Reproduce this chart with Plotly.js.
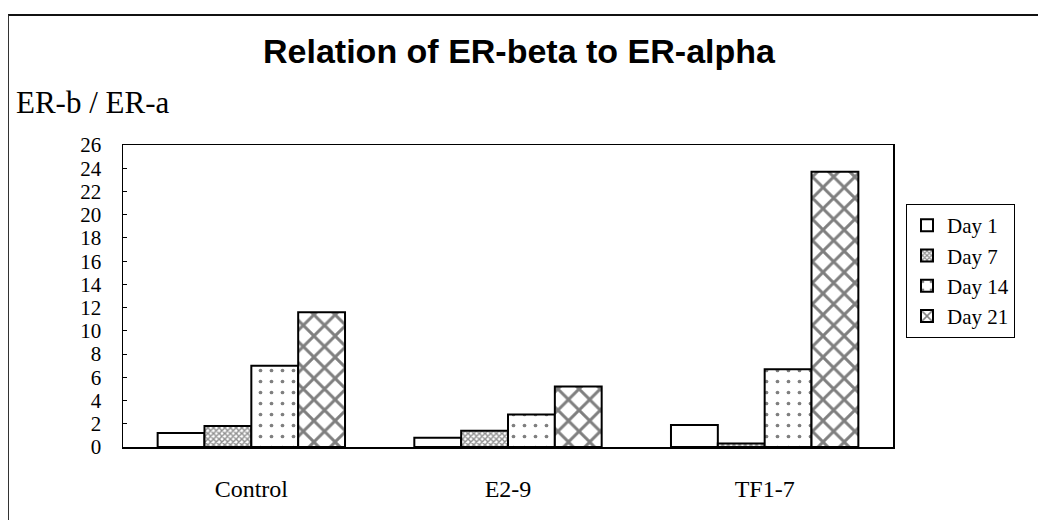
<!DOCTYPE html>
<html>
<head>
<meta charset="utf-8">
<script src="https://cdn.plot.ly/plotly-3.0.1.min.js"></script>
<style>
  html, body { margin: 0; padding: 0; background: #fff; }
  #wrap { position: relative; width: 1038px; height: 520px; }
  #chart { width: 1038px; height: 520px; }
  #frame { position: absolute; left: 8px; top: 14px; right: 0; bottom: 0;
           border-top: 2px solid #111; border-left: 1px solid #333; pointer-events: none; }
</style>
</head>
<body>
<div id="wrap">
  <div id="chart"></div>
  <div id="frame"></div>
</div>
<script>
const categories = ["Control", "E2-9", "TF1-7"];
const seriesNames = ["Day 1", "Day 7", "Day 14", "Day 21"];
const day1 = [1.2, 0.8, 1.9];
const day7 = [1.8, 1.4, 0.3];
const day14 = [7.0, 2.8, 6.7];
const day21 = [11.6, 5.2, 23.7];
const yTicks = [0, 2, 4, 6, 8, 10, 12, 14, 16, 18, 20, 22, 24, 26];

const serif = "Liberation Serif, Times New Roman, serif";
const lineStyle = {color: "#000", width: 2};

const patterns = [
  {shape: "", fillmode: "overlay"},
  {shape: "x", size: 4, solidity: 0.6, fgcolor: "#222", bgcolor: "#fff", fillmode: "overlay"},
  {shape: ".", size: 11, solidity: 0.09, fgcolor: "#000", bgcolor: "#fff", fillmode: "overlay"},
  {shape: "x", size: 15, solidity: 0.35, fgcolor: "#000", bgcolor: "#fff", fillmode: "overlay"}
];
const values = [day1, day7, day14, day21];

const traces = values.map((v, i) => ({
  type: "bar",
  name: seriesNames[i],
  x: categories,
  y: v,
  marker: {color: "#fff", line: lineStyle, pattern: patterns[i]}
}));

const layout = {
  width: 1038, height: 520,
  paper_bgcolor: "#fff", plot_bgcolor: "#fff",
  margin: {l: 123, r: 145, t: 145, b: 73},
  barmode: "group", bargap: 0.27, bargroupgap: 0,
  title: {
    text: "<b>Relation of ER-beta to ER-alpha</b>",
    font: {family: "Liberation Sans, Arial, sans-serif", size: 34, color: "#000"},
    x: 0.5, xref: "container", y: 1 - 51/520, yref: "container", yanchor: "middle"
  },
  xaxis: {
    type: "category",
    showline: true, mirror: true, linecolor: "#000", linewidth: 1.5,
    ticks: "", showgrid: false, zeroline: false,
    tickfont: {family: serif, size: 24, color: "#000"},
    ticklabelstandoff: 20
  },
  yaxis: {
    range: [0, 26], tickvals: yTicks,
    showline: true, mirror: true, linecolor: "#000", linewidth: 1.5,
    ticks: "inside", ticklen: 4, tickcolor: "#000", tickwidth: 1,
    showgrid: false, zeroline: false,
    tickfont: {family: serif, size: 21, color: "#000"},
    ticklabelstandoff: 16
  },
  legend: {
    xref: "container", yref: "container",
    x: 906/1038, y: 1 - 204/520, xanchor: "left", yanchor: "top",
    bordercolor: "#000", borderwidth: 1, bgcolor: "#fff",
    font: {family: serif, size: 21, color: "#000"},
    tracegroupgap: 0, itemwidth: 30
  },
  annotations: [{
    text: "ER-b / ER-a", xref: "paper", yref: "paper",
    x: -0.142, y: 1 + 42/302, xanchor: "left", yanchor: "middle",
    showarrow: false,
    font: {family: serif, size: 31, color: "#000"}
  }],
  showlegend: true
};

Plotly.newPlot("chart", traces, layout, {displayModeBar: false, staticPlot: true});
</script>
</body>
</html>
